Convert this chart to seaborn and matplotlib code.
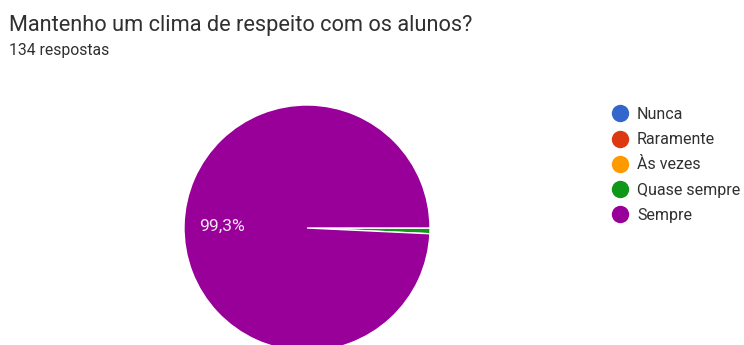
import matplotlib
matplotlib.use("Agg")
import matplotlib.pyplot as plt
from matplotlib.lines import Line2D
import seaborn as sns

# Survey answers
categories = ["Nunca", "Raramente", "Às vezes", "Quase sempre", "Sempre"]
counts = [0, 0, 0, 1, 133]
colors = ["#3366cc", "#dc3912", "#ff9900", "#109618", "#990099"]
title = "Mantenho um clima de respeito com os alunos?"
subtitle = "134 respostas"

sns.set_theme(style="white")
plt.rcParams["font.family"] = ["Roboto", "DejaVu Sans"]

W, H = 744, 345
fig = plt.figure(figsize=(W / 100, H / 100), dpi=100)
fig.patch.set_facecolor("white")

# Pie axes: square box, partly below the figure's bottom edge
cx, cy, r = 307, 228, 123
ax = fig.add_axes([(cx - r) / W, (H - cy - r) / H, 2 * r / W, 2 * r / H])

# Only non-empty slices are drawn; slices start at 3 o'clock going clockwise
shown = [(c, v, col) for c, v, col in zip(categories, counts, colors) if v > 0]

def fmt(p):
    return f"{p:.1f}%".replace(".", ",") if p >= 5 else ""

wedges, texts, autotexts = ax.pie(
    [v for _, v, _ in shown],
    colors=[col for _, _, col in shown],
    startangle=0,
    counterclock=False,
    autopct=fmt,
    pctdistance=0.69,
    wedgeprops=dict(edgecolor="white", linewidth=1.0),
    textprops=dict(color="#f4e6f4", fontsize=12.6),
)
ax.set_xlim(-1, 1)
ax.set_ylim(-1, 1)
ax.set_aspect("equal")
ax.axis("off")

fig.text(9 / W, 1 - 26 / H, title, fontsize=15.7, color="#303030", va="center", ha="left")
fig.text(9 / W, 1 - 50 / H, subtitle, fontsize=11.3, color="#303030", va="center", ha="left")

handles = [
    Line2D([0], [0], marker="o", linestyle="", markersize=11.5,
           markerfacecolor=col, markeredgecolor=col, label=c)
    for c, col in zip(categories, colors)
]
leg = fig.legend(
    handles=handles,
    loc="upper left",
    bbox_to_anchor=(612 / W, 1 - 107 / H),
    frameon=False,
    fontsize=11.5,
    labelspacing=0.64,
    handlelength=1.0,
    handletextpad=0.56,
    borderpad=0,
    borderaxespad=0,
)
for t in leg.get_texts():
    t.set_color("#303030")

fig.savefig("out.png", dpi=100, facecolor="white")
